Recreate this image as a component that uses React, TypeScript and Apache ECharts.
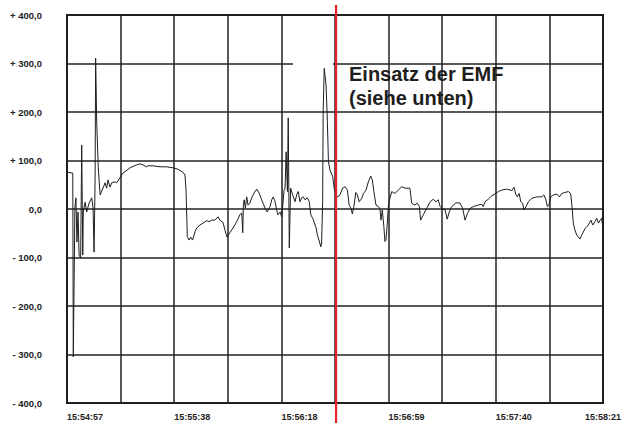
import React, { useEffect, useRef } from "react";
import * as echarts from "echarts";

// seconds after 15:54:57
const times = [
  0, 2.2, 2.4, 3.0, 3.4, 3.8, 4.2, 4.6, 5.2, 5.6, 6.0, 6.2, 6.9, 7.5, 8.4, 9.4, 9.9, 10.3, 10.7, 10.9,
  11.3, 11.9, 12.6, 13.7, 14.5, 15.1, 15.6, 16.4, 17.0, 18.3, 18.9, 21.3, 24.0, 26.5, 27.8, 28.9, 30.3, 30.8, 32.7, 35.4,
  37.9, 40.3, 42.2, 44.1, 44.9, 45.3, 45.8, 46.5, 47.1, 47.8, 48.7, 49.4, 50.6, 51.8, 53.2, 54.0, 55.1, 56.3, 57.5, 58.2,
  59.4, 60.1, 60.9, 62.0, 63.2, 64.6, 65.8, 66.5, 66.9, 67.1, 67.4, 67.9, 68.4, 68.9, 69.6, 70.3, 71.2, 72.2, 73.1, 74.1,
  74.6, 75.7, 76.2, 77.3, 77.9, 78.5, 79.2, 79.8, 80.3, 81.1, 81.7, 82.1, 82.6, 83.0, 83.4, 83.9, 84.2, 84.6, 85.1, 85.9,
  86.8, 87.4, 88.0, 88.7, 89.3, 89.9, 90.6, 91.5, 92.2, 92.8, 93.5, 94.0, 94.8, 95.3, 95.9, 96.6, 96.9, 97.3, 97.5, 97.9,
  98.6, 99.1, 99.5, 100.1, 101.1, 101.7, 102.3, 103.0, 103.9, 104.9, 105.8, 106.7, 107.4, 108.1, 108.6, 109.2, 109.9, 110.5, 111.2, 112.2,
  112.8, 113.8, 114.7, 115.6, 116.2, 116.8, 117.6, 118.5, 119.1, 119.5, 120.0, 120.6, 121.0, 121.4, 121.9, 122.3, 122.9, 123.6, 124.8, 126.1,
  127.4, 128.6, 130.5, 131.2, 132.4, 133.3, 134.1, 134.6, 135.6, 136.9, 138.2, 139.4, 140.4, 141.3, 142.0, 143.0, 143.9, 144.7, 145.5, 146.4,
  148.1, 149.6, 150.6, 151.5, 152.4, 153.4, 154.6, 156.5, 157.8, 158.4, 159.1, 160.3, 161.6, 162.9, 164.2, 165.4, 167.4, 169.3, 170.1, 170.9,
  171.4, 172.1, 172.7, 173.4, 173.9, 174.7, 175.6, 176.9, 178.8, 180.7, 181.5, 182.3, 182.8, 183.4, 184.1, 185.1, 186.4, 187.4, 188.3, 189.5,
  190.8, 191.7, 192.2, 192.7, 193.3, 194.0, 194.6, 195.2, 195.9, 197.2, 198.0, 198.8, 199.4, 200.1, 201.0, 201.6, 202.3, 202.9, 203.5, 204.0,
];

const values = [
  76, 74, -305, 2, 23, -68, -6, -95, -101, 132, -95, -6, 14, -6, 12, 23, 4, -89, 64, 311,
  179, 85, 29, 43, 54, 43, 60, 45, 54, 56, 54, 74, 85, 91, 93, 91, 87, 89, 89, 87,
  87, 85, 82, 76, 70, 39, -57, -64, -58, -64, -47, -39, -33, -29, -24, -26, -23, -23, -16, -23,
  -28, -43, -58, -49, -39, -26, -12, -8, -49, 5, 19, 2, 25, 8, 12, 23, 33, 41, 33, 19,
  12, -2, -6, 5, 19, 25, 15, -2, -12, -6, -16, 5, 39, 43, 118, 36, 188, -80, 43, 29,
  15, 29, 36, 15, 23, 25, 19, 23, 15, -12, -19, -26, -39, -54, -64, -78, -70, 15, 201, 290,
  256, 180, 98, 80, 67, 43, 29, 25, 29, 43, 46, 39, 8, 1, -10, 5, 34, 29, 15, 22,
  32, 39, 56, 68, 60, 36, 8, 5, 1, -23, -2, -36, -67, -64, -29, 5, 22, 36, 32, 39,
  46, 43, 43, 12, 8, 12, 5, -23, -12, 1, 15, 20, 15, 19, 5, 1, -2, -21, -6, 5,
  13, 12, 1, -23, -9, 1, 5, 8, 10, 5, 15, 20, 27, 31, 36, 39, 41, 38, 45, 29,
  25, 32, 15, 12, -2, 5, 15, 22, 25, 25, 29, 19, 5, 8, 25, 29, 31, 25, 32, 34,
  36, 32, 5, -29, -43, -54, -57, -62, -54, -40, -36, -29, -23, -33, -26, -19, -29, -23, -19, -43,
];

const xTickLabels = [
  "15:54:57", "", "15:55:38", "", "15:56:18", "", "15:56:59", "", "15:57:40", "", "15:58:21",
];
const xTickStep = 20.4;
const xMax = 204;
const yTicks = [-400, -300, -200, -100, 0, 100, 200, 300, 400];
const emfTime = 102.4;
const annotation = ["Einsatz der EMF", "(siehe unten)"];

export default function App() {
  const ref = useRef<HTMLDivElement>(null);
  useEffect(() => {
    document.body.style.margin = "0";
    const chart = echarts.init(ref.current!, null, { renderer: "svg" });
    const data = times.map((t, i) => [t, values[i]]);
    chart.setOption({
      animation: false,
      backgroundColor: "#ffffff",
      grid: {
        left: 67,
        right: 27,
        top: 15,
        bottom: 20,
        outerBoundsMode: "none",
        containLabel: false,
        show: true,
        borderColor: "#1a1a1a",
        borderWidth: 2,
        backgroundColor: "transparent",
      },
      xAxis: {
        type: "value",
        min: 0,
        max: xMax,
        interval: xTickStep,
        axisLine: { show: false },
        axisTick: { show: false },
        splitLine: { show: true, lineStyle: { color: "#222", width: 1.5 } },
        axisLabel: {
          align: "left",
          alignMaxLabel: "center",
          margin: 9,
          color: "#222",
          fontFamily: "Liberation Sans, Arial, sans-serif",
          fontWeight: "bold",
          fontSize: 9,
          showMinLabel: true,
          showMaxLabel: true,
          formatter: (v: number) => xTickLabels[Math.round(v / xTickStep)] ?? "",
        },
      },
      yAxis: {
        type: "value",
        min: yTicks[0],
        max: yTicks[yTicks.length - 1],
        interval: 100,
        axisLine: { show: false },
        axisTick: { show: false },
        splitLine: { show: true, lineStyle: { color: "#222", width: 1.5 } },
        axisLabel: {
          margin: 25,
          color: "#222",
          fontFamily: "Liberation Sans, Arial, sans-serif",
          fontWeight: "bold",
          fontSize: 9.5,
          formatter: (v: number) =>
            v > 0 ? "+ " + v + ",0" : v < 0 ? "- " + Math.abs(v) + ",0" : "0,0",
        },
      },
      series: [
        {
          type: "line",
          data,
          symbol: "none",
          lineStyle: { color: "#1e1e1e", width: 1 },
          z: 3,
        },
      ],
    });
    const p = chart.convertToPixel({ gridIndex: 0 }, [emfTime, 0]) as number[];
    const p300 = chart.convertToPixel({ gridIndex: 0 }, [0, 300]) as number[];
    chart.setOption({
      graphic: [
        {
          type: "rect",
          shape: { x: 293, y: p300[1] - 2, width: 40, height: 4 },
          style: { fill: "#ffffff" },
          z: 2,
        },
        {
          type: "line",
          shape: { x1: p[0], y1: 5, x2: p[0], y2: 423 },
          style: { stroke: "#e3232b", lineWidth: 2.2 },
          z: 10,
        },
        ...annotation.map((t, i) => ({
          type: "text",
          x: 349,
          y: 64 + i * 24,
          style: {
            text: t,
            font: "bold 20px 'Liberation Sans', Arial, sans-serif",
            fill: "#1e1e1e",
          },
          z: 10,
        })),
      ],
    });
    return () => chart.dispose();
  }, []);
  return <div ref={ref} style={{ width: 630, height: 423 }} />;
}
